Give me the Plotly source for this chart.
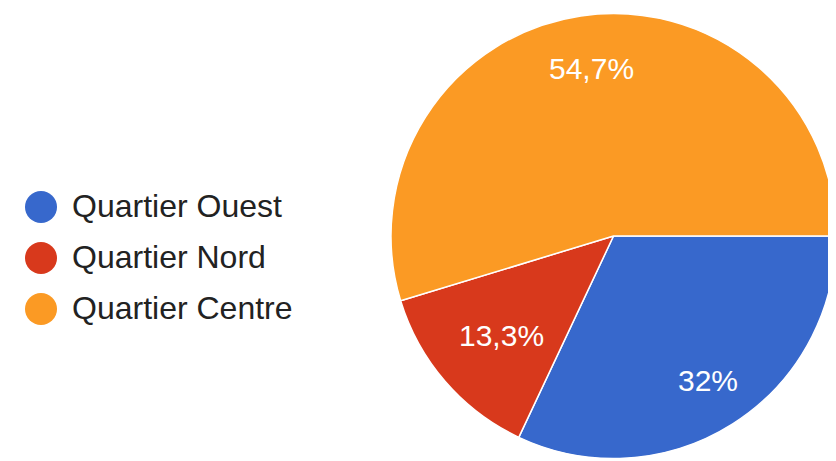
import math
import plotly.graph_objects as go

categories = ["Quartier Ouest", "Quartier Nord", "Quartier Centre"]
values = [32.0, 13.3, 54.7]
colors = ["#3768CC", "#D8391C", "#FB9A24"]

# the html page body has an 8px margin, so the figure is drawn 8px in from the corner
W, H = 828, 453
OFF = 8

# pie geometry (figure pixel coords)
CX, CY, R = 614 - OFF, 236 - OFF, 223
label_radius = [0.77, 0.68, 0.76]

fig = go.Figure()

fig.add_trace(go.Pie(
    labels=categories,
    values=values,
    sort=False,
    direction="clockwise",
    rotation=90,
    marker=dict(colors=colors, line=dict(color="white", width=1.5)),
    textinfo="none",
    hoverinfo="label+percent",
    showlegend=False,
    domain=dict(x=[(CX - R) / W, 1.0], y=[(H - (CY + R)) / H, (H - (CY - R)) / H]),
))

# percentage labels, placed at mid-angle of each slice
total = sum(values)
cum = 0.0
font_lbl = dict(color="white", size=30, family="Liberation Sans, Arial, sans-serif")
for v, f in zip(values, label_radius):
    mid = (cum + v / 2) / total * 2 * math.pi  # clockwise from east
    cum += v
    pct = v / total * 100
    txt = (f"{pct:.1f}".rstrip("0").rstrip(".")).replace(".", ",") + "%"
    fig.add_annotation(
        x=CX + 2 + R * f * math.cos(mid),
        y=CY + R * f * math.sin(mid),
        xref="x", yref="y",
        text=txt, showarrow=False,
        font=font_lbl,
        xanchor="center", yanchor="middle",
    )

# custom legend with large circular markers
leg_x0, leg_y0, leg_gap, text_dx, text_dy = 41 - OFF, 207 - OFF, 51, 31, 2
leg_y = [leg_y0 + i * leg_gap for i in range(len(categories))]
fig.add_trace(go.Scatter(
    x=[leg_x0] * len(categories),
    y=leg_y,
    mode="markers",
    marker=dict(size=32, color=colors, line=dict(width=0)),
    hoverinfo="skip",
    showlegend=False,
    cliponaxis=False,
))
fig.add_trace(go.Scatter(
    x=[leg_x0 + text_dx] * len(categories),
    y=[y + text_dy for y in leg_y],
    mode="text",
    text=categories,
    textposition="middle right",
    textfont=dict(size=32, color="#222222", family="Liberation Sans, Arial, sans-serif"),
    hoverinfo="skip",
    showlegend=False,
    cliponaxis=False,
))

fig.update_layout(
    width=W, height=H,
    margin=dict(l=0, r=0, t=0, b=0),
    paper_bgcolor="white",
    plot_bgcolor="rgba(0,0,0,0)",
    separators=", ",
    xaxis=dict(range=[0, W], visible=False, fixedrange=True),
    yaxis=dict(range=[H, 0], visible=False, fixedrange=True),
    showlegend=False,
)

fig.write_html("out.html")
